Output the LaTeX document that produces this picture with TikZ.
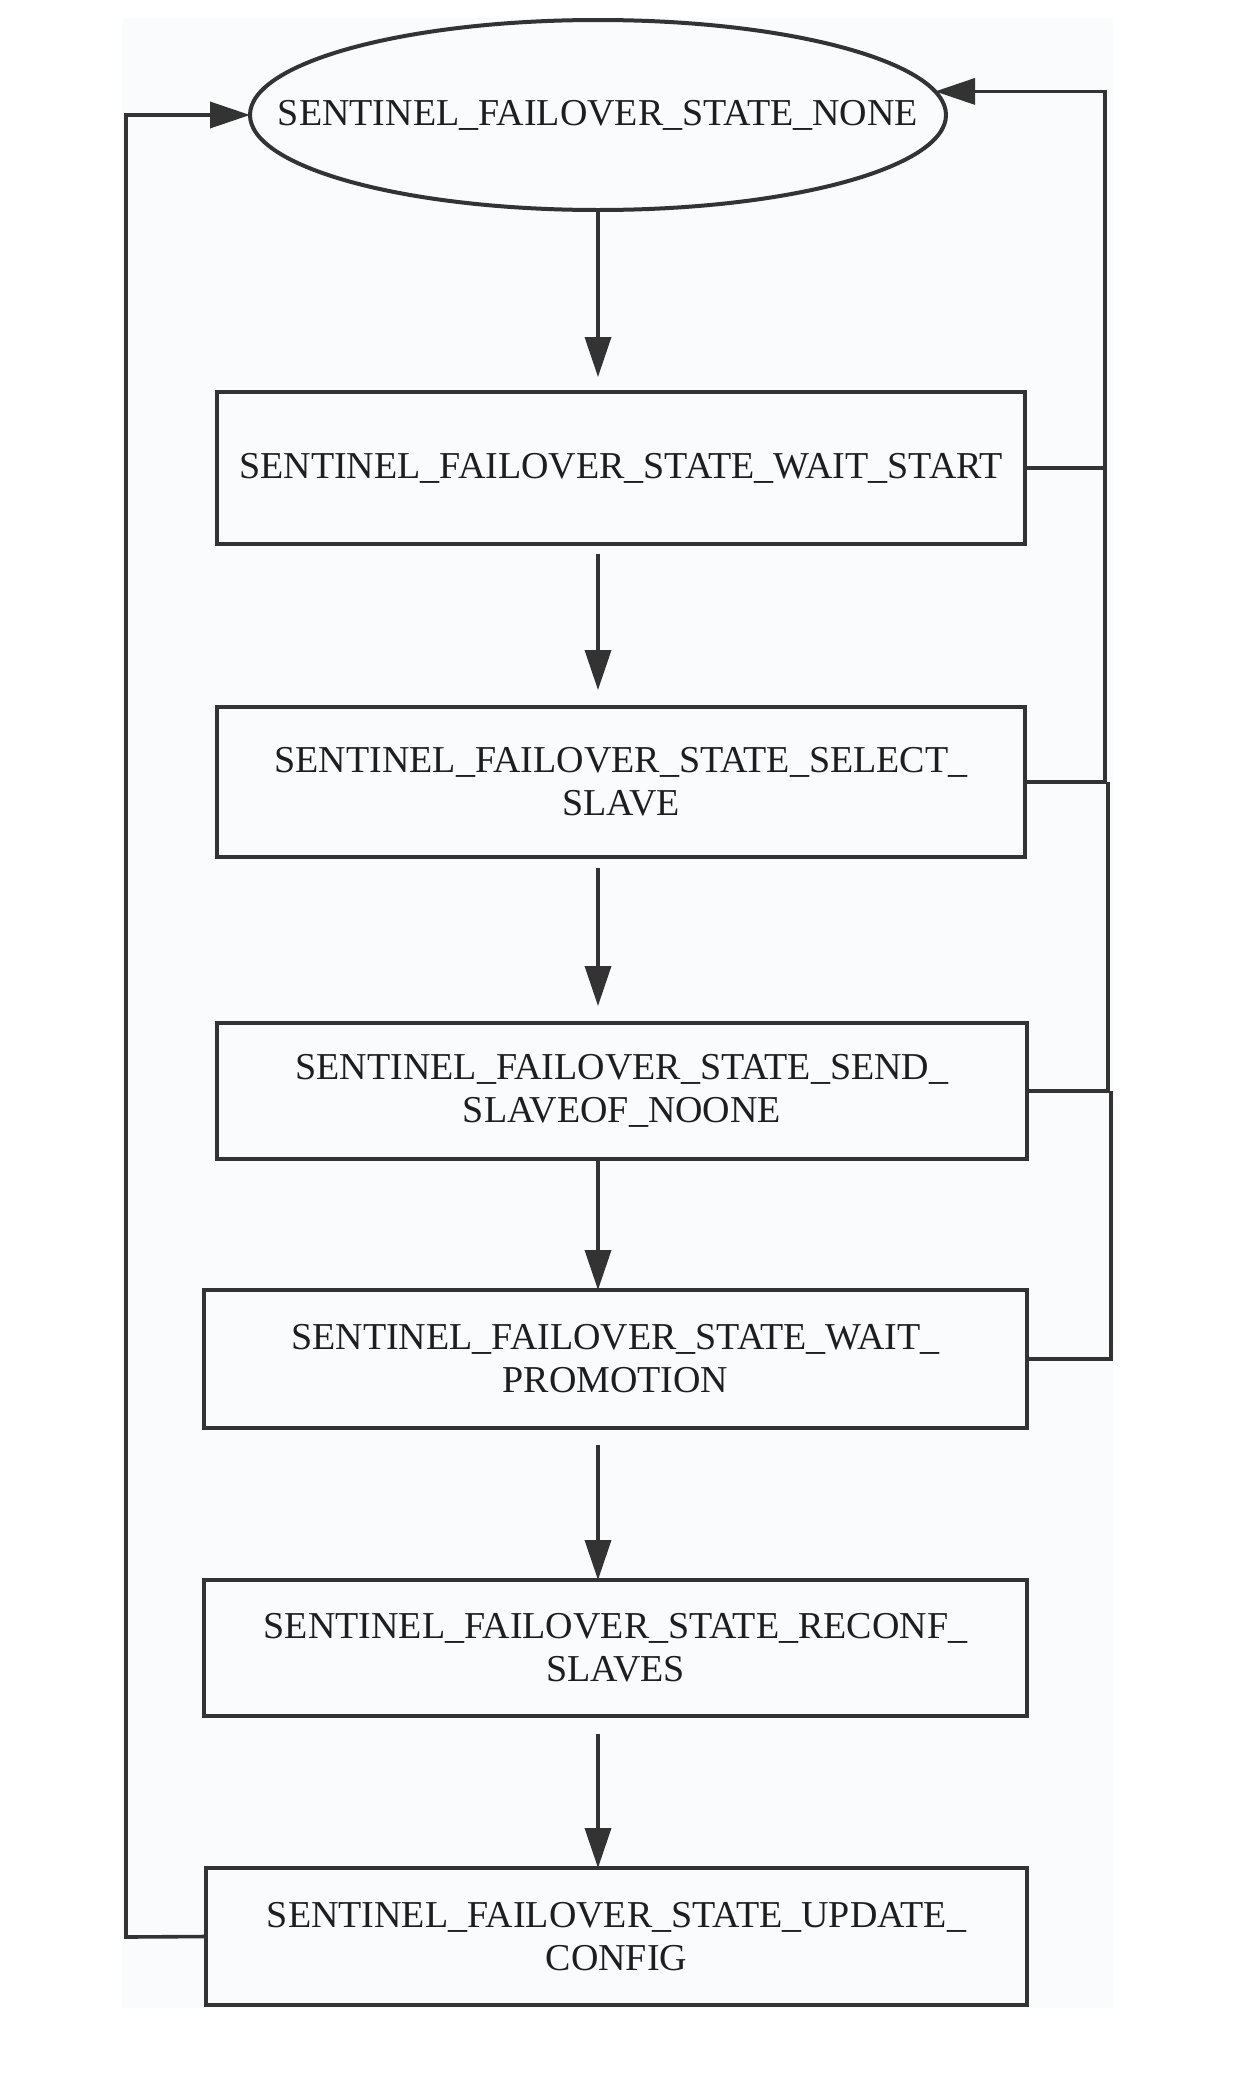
\documentclass[tikz,border=0pt]{standalone}
\usepackage{fontspec}
\setmainfont{Liberation Serif}
\usetikzlibrary{shapes.geometric,arrows.meta}
\definecolor{ink}{HTML}{333333}
\definecolor{txt}{HTML}{1E1E1E}
\definecolor{paper}{HTML}{F9FBFD}
\begin{document}
\begin{tikzpicture}[x=1pt,y=-1pt,
  font=\fontsize{38}{43}\selectfont,
  every node/.style={text=txt, inner sep=0pt, outer sep=0pt, align=center},
  statebox/.style={draw=ink, line width=4pt, fill=paper},
  startstate/.style={draw=ink, line width=4pt, ellipse, fill=paper,
    inner xsep=-78pt},
  link/.style={draw=ink, line width=3.6pt},
  arr/.style={link, -{Triangle[length=40pt,width=26pt]}}]
  % canvas and light panel
  \useasboundingbox (0,0) rectangle (1244,2088);
  \fill[white] (0,0) rectangle (1244,2088);
  \fill[paper] (122,18) rectangle (1113,2008);

  % states
  \node[startstate, minimum width=696pt, minimum height=190pt] (ns) at (598,115)
    {SENTINEL\_FAILOVER\_STATE\_NONE};
  \node[statebox, minimum width=808pt, minimum height=152pt] (ws) at (621,468)
    {SENTINEL\_FAILOVER\_STATE\_WAIT\_START};
  \node[statebox, minimum width=808pt, minimum height=150pt] (ss) at (621,782)
    {SENTINEL\_FAILOVER\_STATE\_SELECT\_\\SLAVE};
  \node[statebox, minimum width=810pt, minimum height=136pt] (sn) at (622,1091)
    {SENTINEL\_FAILOVER\_STATE\_SEND\_\\SLAVEOF\_NOONE};
  \node[statebox, minimum width=823pt, minimum height=138pt] (wp) at (615.5,1359)
    {SENTINEL\_FAILOVER\_STATE\_WAIT\_\\PROMOTION};
  \node[statebox, minimum width=823pt, minimum height=136pt] (rs) at (615.5,1648)
    {SENTINEL\_FAILOVER\_STATE\_RECONF\_\\SLAVES};
  \node[statebox, minimum width=821pt, minimum height=137pt] (uc) at (616.5,1936.5)
    {SENTINEL\_FAILOVER\_STATE\_UPDATE\_\\CONFIG};

  % main downward sequence
  \draw[arr, shorten >=15pt] (ns.south) -- (ws.north -| ns.south);
  \draw[arr, shorten <=10pt, shorten >=17pt] (ws.south -| ns.south) -- (ss.north -| ns.south);
  \draw[arr, shorten <=11pt, shorten >=17pt] (ss.south -| ns.south) -- (sn.north -| ns.south);
  \draw[arr] (sn.south -| ns.south) -- (wp.north -| ns.south);
  \draw[arr, shorten <=17pt] (wp.south -| ns.south) -- (rs.north -| ns.south);
  \draw[arr, shorten <=18pt] (rs.south -| ns.south) -- (uc.north -| ns.south);

  % return to the initial state on the left
  \coordinate (lft) at (126,1937);
  \draw[arr] (uc.west) -- (lft) |- (ns.west);

  % abort paths on the right, merging into one bus
  \coordinate (b1) at (1105,782);
  \coordinate (b2) at (1108,782);
  \coordinate (b3) at (1111,1091);
  \draw[link] (wp.east) -| (b3);
  \draw[link] (sn.east) -| (b2);
  \draw[arr] (ss.east) -- (b1) |- (ns.4);
  \draw[link] (ws.east) -- (ws.east -| b1);
\end{tikzpicture}
\end{document}
